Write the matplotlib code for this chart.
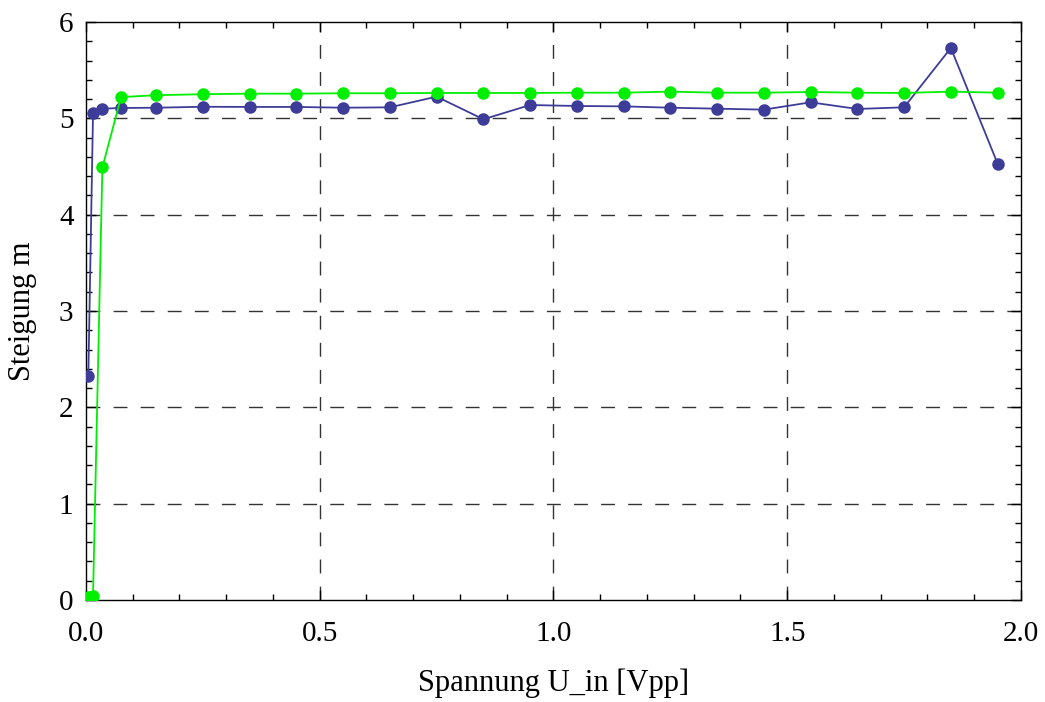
import matplotlib
matplotlib.use("Agg")
import matplotlib.pyplot as plt
from matplotlib.ticker import MultipleLocator, FormatStrFormatter

# Eingangsspannung (Vpp)
u_in = [0.005, 0.015, 0.035, 0.075, 0.15, 0.25, 0.35, 0.45, 0.55, 0.65, 0.75,
        0.85, 0.95, 1.05, 1.15, 1.25, 1.35, 1.45, 1.55, 1.65, 1.75, 1.85, 1.95]

# Steigung, Messreihe 1 (blau)
m_blau = [2.33, 5.05, 5.10, 5.107, 5.11, 5.12, 5.118, 5.118, 5.11, 5.114, 5.225,
          4.99, 5.138, 5.128, 5.124, 5.11, 5.10, 5.09, 5.166, 5.097, 5.114, 5.73, 4.53]

# Steigung, Messreihe 2 (gruen)
m_gruen = [0.03, 0.04, 4.49, 5.22, 5.24, 5.25, 5.256, 5.256, 5.26, 5.26, 5.263,
           5.263, 5.263, 5.266, 5.266, 5.277, 5.266, 5.266, 5.273, 5.266, 5.263, 5.277, 5.266]

plt.rcParams['font.family'] = ['Liberation Serif', 'DejaVu Serif']
plt.rcParams['font.size'] = 21

fig = plt.figure(figsize=(10.45, 7.02), dpi=100)
ax = fig.add_axes([0.0823, 0.1453, 0.8947, 0.8234])

ax.plot(u_in, m_blau, color='#3d3d99', lw=1.3, marker='o', ms=8, zorder=3)
ax.plot(u_in, m_gruen, color='#00ee00', lw=1.3, marker='o', ms=8, zorder=4)

ax.set_xlim(0, 2)
ax.set_ylim(0, 6)
ax.xaxis.set_major_locator(MultipleLocator(0.5))
ax.xaxis.set_minor_locator(MultipleLocator(0.1))
ax.yaxis.set_major_locator(MultipleLocator(1))
ax.yaxis.set_minor_locator(MultipleLocator(0.2))
ax.xaxis.set_major_formatter(FormatStrFormatter('%.1f'))

ax.tick_params(which='both', direction='in', top=True, right=True, width=1)
ax.tick_params(which='major', length=7)
ax.tick_params(which='minor', length=4)
ax.tick_params(axis='x', which='major', pad=15)
ax.tick_params(axis='y', which='major', pad=9)

for v in [0.5, 1.0, 1.5]:
    ax.axvline(v, color='#333333', lw=1, ls=(0, (10, 9.5)), zorder=1)
for v in [1, 2, 3, 4, 5]:
    ax.axhline(v, color='#333333', lw=1, ls=(0, (10, 9.5)), zorder=1)

for s in ax.spines.values():
    s.set_linewidth(1)

ax.set_xlabel('Spannung U_in [Vpp]', fontsize=22, va='center')
ax.xaxis.set_label_coords(0.5, -(683 - 600) / 578)
ax.set_ylabel('Steigung m', fontsize=22, va='center')
ax.yaxis.set_label_coords(-(86 - 22) / 935, 0.5)

fig.savefig('out.png', dpi=100)
